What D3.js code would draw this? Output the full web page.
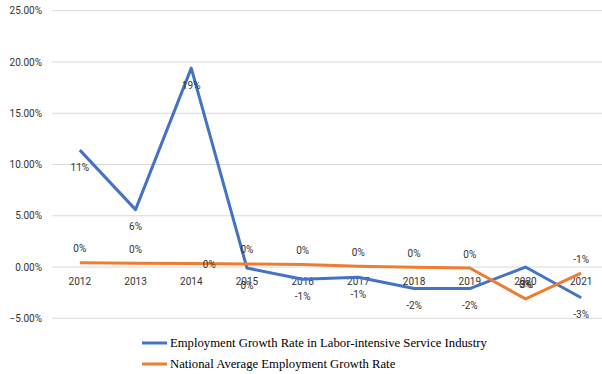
<!DOCTYPE html>
<html>
<head>
<meta charset="utf-8">
<script src="https://cdn.jsdelivr.net/npm/d3@7"></script>
<style>
  body { margin: 0; background: #fff; }
  svg { display: block; }
</style>
</head>
<body>
<svg id="chart" width="602" height="374"></svg>
<script>
const years = ['2012', '2013', '2014', '2015', '2016', '2017', '2018', '2019', '2020', '2021'];
const serviceRates = [0.114, 0.056, 0.194, -0.001, -0.012, -0.010, -0.021, -0.021, 0.000, -0.030];
const nationalRates = [0.0042, 0.0038, 0.0035, 0.0030, 0.0025, 0.0008, -0.0003, -0.0010, -0.031, -0.006];
const yTicks = [-0.05, 0, 0.05, 0.10, 0.15, 0.20, 0.25];
const seriesNames = [
  'Employment Growth Rate in Labor-intensive Service Industry',
  'National Average Employment Growth Rate'
];
const seriesColors = ['#4472C4', '#ED7D31'];

const svg = d3.select('#chart');

const x = d3.scaleBand().domain(years).range([52, 609]);
const y = d3.scaleLinear().domain([-0.05, 0.25]).range([318.3, 10.7]);
const cx = d => x(d) + x.bandwidth() / 2;

// gridlines
svg.append('g')
  .selectAll('line')
  .data(yTicks)
  .join('line')
  .attr('x1', 52).attr('x2', 609)
  .attr('y1', d => y(d)).attr('y2', d => y(d))
  .attr('stroke', '#d9d9d9')
  .attr('stroke-width', 1);

// y axis labels
const yAxis = svg.append('g')
  .attr('transform', 'translate(42,0)')
  .call(d3.axisLeft(y).tickValues(yTicks).tickFormat(d3.format('.2%')).tickSize(0).tickPadding(0));
yAxis.select('.domain').remove();
yAxis.selectAll('text')
  .attr('font-family', 'Roboto')
  .attr('font-size', 10)
  .attr('fill', '#333');

// category labels sit just under the zero line
const xAxis = svg.append('g')
  .attr('transform', `translate(0,${y(0)})`)
  .call(d3.axisBottom(x).tickSize(0).tickPadding(11));
xAxis.select('.domain').remove();
xAxis.selectAll('text')
  .attr('font-family', 'Roboto')
  .attr('font-size', 10)
  .attr('fill', '#333');

const line = d3.line()
  .x((d, i) => cx(years[i]))
  .y(d => y(d));

[serviceRates, nationalRates].forEach((vals, s) => {
  svg.append('path')
    .datum(vals)
    .attr('fill', 'none')
    .attr('stroke', seriesColors[s])
    .attr('stroke-width', 3)
    .attr('stroke-linejoin', 'round')
    .attr('d', line);
});

const pct = v => `${Math.round(v * 100) || 0}%`;

// data labels: service below the point, national above
svg.append('g')
  .selectAll('text')
  .data(serviceRates)
  .join('text')
  .attr('x', (d, i) => cx(years[i]))
  .attr('y', d => y(d) + 17)
  .attr('dy', '0.35em')
  .attr('text-anchor', 'middle')
  .attr('font-family', 'Roboto')
  .attr('font-size', 10)
  .attr('fill', '#333')
  .text(pct);

svg.append('g')
  .selectAll('text')
  .data(nationalRates)
  .join('text')
  .attr('x', (d, i) => cx(years[i]) + (years[i] === '2014' ? 18 : 0))
  .attr('y', (d, i) => years[i] === '2014' ? y(d) + 1 : y(d) - 14)
  .attr('dy', '0.35em')
  .attr('text-anchor', 'middle')
  .attr('font-family', 'Roboto')
  .attr('font-size', 10)
  .attr('fill', '#333')
  .text(pct);

// legend
const legend = svg.append('g')
  .selectAll('g')
  .data(seriesNames)
  .join('g')
  .attr('transform', (d, i) => `translate(142,${343 + i * 21})`);
legend.append('line')
  .attr('x1', 0).attr('x2', 25)
  .attr('stroke', (d, i) => seriesColors[i])
  .attr('stroke-width', 3);
legend.append('text')
  .attr('x', 28)
  .attr('dy', '0.35em')
  .attr('font-family', 'Liberation Serif')
  .attr('font-size', 12.7)
  .attr('fill', '#000')
  .text(d => d);
</script>
</body>
</html>
